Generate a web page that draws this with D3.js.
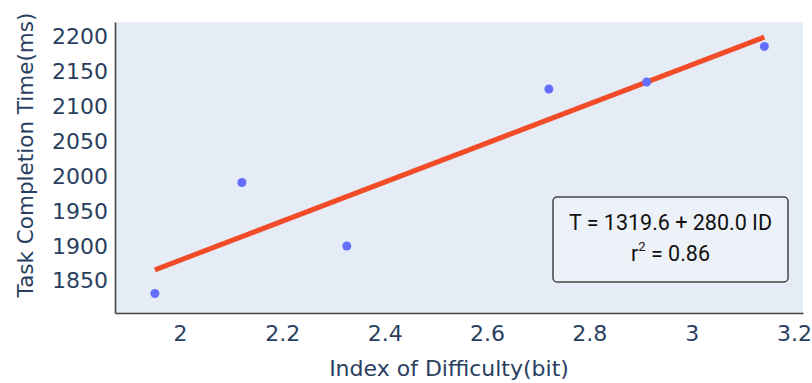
<!DOCTYPE html>
<html>
<head>
<meta charset="utf-8">
<script src="https://cdn.jsdelivr.net/npm/d3@7"></script>
<style>
  html, body { margin: 0; padding: 0; background: #ffffff; }
  svg { display: block; }
</style>
</head>
<body>
<div id="chart"></div>
<script>
// ---- data ----
const indexOfDifficulty = [1.951, 2.121, 2.326, 2.721, 2.912, 3.142];
const completionTime    = [1832, 1991, 1900, 2125, 2135, 2186];
const fitCoefficients   = [1319.6, 280.0]; // intercept, slope
const rSquared          = [0.86];
const xTickValues       = [2, 2.2, 2.4, 2.6, 2.8, 3, 3.2];
const yTickValues       = [1850, 1900, 1950, 2000, 2050, 2100, 2150, 2200];
const xTitle = "Index of Difficulty(bit)";
const yTitle = "Task Completion Time(ms)";

// ---- layout ----
const W = 812, H = 383;
const m = { left: 115, right: 9, top: 22, bottom: 70 };
const pw = W - m.left - m.right, ph = H - m.top - m.bottom;

const svg = d3.select("#chart").append("svg").attr("width", W).attr("height", H);
const g = svg.append("g").attr("transform", `translate(${m.left},${m.top})`);

const x = d3.scaleLinear().domain([1.873, 3.2176]).range([0, pw]);
const y = d3.scaleLinear().domain([1804, 2221]).range([ph, 0]);

g.append("rect").attr("width", pw).attr("height", ph).attr("fill", "#e6ecf5");

const textColor = "#2a3f5f";
const font = "'DejaVu Sans', Verdana, sans-serif";

// axes
const xAxis = d3.axisBottom(x).tickValues(xTickValues).tickSize(0).tickPadding(12)
  .tickFormat(d => d3.format("~g")(d));
const yAxis = d3.axisLeft(y).tickValues(yTickValues).tickSize(0).tickPadding(7)
  .tickFormat(d3.format("d"));

const gx = g.append("g").attr("transform", `translate(0,${ph})`).call(xAxis);
const gy = g.append("g").call(yAxis);
[gx, gy].forEach(a => {
  a.select(".domain").attr("stroke", "#444").attr("stroke-width", 1.6);
  a.selectAll("text").attr("fill", textColor).style("font-family", font).style("font-size", "22px");
});

// regression line
const xs = d3.extent(indexOfDifficulty);
const fit = xs.map(v => [v, fitCoefficients[0] + fitCoefficients[1] * v]);
g.append("path")
  .datum(fit)
  .attr("fill", "none")
  .attr("stroke", "#f24b28")
  .attr("stroke-width", 5)
  .attr("d", d3.line().x(d => x(d[0])).y(d => y(d[1])));

// points
g.selectAll("circle.pt")
  .data(indexOfDifficulty.map((v, i) => [v, completionTime[i]]))
  .join("circle")
  .attr("class", "pt")
  .attr("cx", d => x(d[0]))
  .attr("cy", d => y(d[1]))
  .attr("r", 4.5)
  .attr("fill", "#636efa");

// annotation box
const bx = 438, by = 175, bw = 235, bh = 85;
const box = g.append("g").attr("transform", `translate(${bx},${by})`);
box.append("rect").attr("width", bw).attr("height", bh).attr("rx", 4)
  .attr("fill", "#edf1f8").attr("stroke", "#444").attr("stroke-width", 1.5);
const boxFont = "Roboto, 'Liberation Sans Narrow', sans-serif";
box.append("text").attr("x", bw / 2).attr("y", 25).attr("text-anchor", "middle")
  .attr("dominant-baseline", "central")
  .style("font-family", boxFont).style("font-size", "21.5px").attr("fill", "#111")
  .text(`T = ${fitCoefficients[0].toFixed(1)} + ${fitCoefficients[1].toFixed(1)} ID`);
const t2 = box.append("text").attr("x", bw / 2).attr("y", 56).attr("text-anchor", "middle")
  .attr("dominant-baseline", "central")
  .style("font-family", boxFont).style("font-size", "21.5px").attr("fill", "#111");
t2.append("tspan").text("r");
t2.append("tspan").attr("dy", -7).style("font-size", "13px").text("2");
t2.append("tspan").attr("dy", 7).text(` = ${rSquared[0].toFixed(2)}`);

// axis titles
svg.append("text")
  .attr("x", 449).attr("y", 368)
  .attr("text-anchor", "middle").attr("dominant-baseline", "central")
  .attr("fill", textColor).style("font-family", font).style("font-size", "22px")
  .text(xTitle);
svg.append("text")
  .attr("transform", `translate(25,${m.top + 133}) rotate(-90)`)
  .attr("text-anchor", "middle").attr("dominant-baseline", "central")
  .attr("fill", textColor).style("font-family", font).style("font-size", "21.5px")
  .text(yTitle);
</script>
</body>
</html>
